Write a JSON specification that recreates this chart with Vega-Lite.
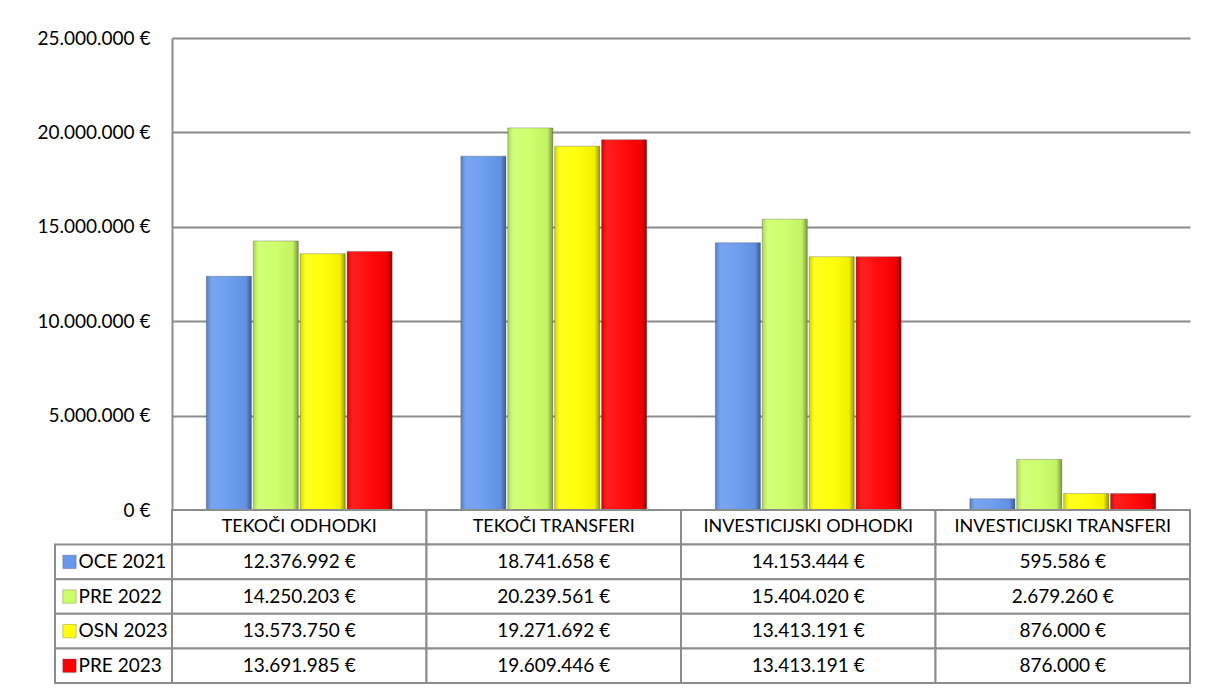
{
  "$schema": "https://vega.github.io/schema/vega-lite/v6.json",
  "padding": {"left": 36, "top": 29, "right": 5, "bottom": 5},
  "background": "white",
  "config": {
    "view": {"stroke": null},
    "font": "Lato",
    "locale": {"number": {"decimal": ",", "thousands": ".", "grouping": [3], "currency": ["", "\u00a0€"]}}
  },
  "datasets": {
    "vrednosti": [
      {"kategorija": "TEKOČI ODHODKI", "serija": "OCE 2021", "vrednost": 12376992},
      {"kategorija": "TEKOČI ODHODKI", "serija": "PRE 2022", "vrednost": 14250203},
      {"kategorija": "TEKOČI ODHODKI", "serija": "OSN 2023", "vrednost": 13573750},
      {"kategorija": "TEKOČI ODHODKI", "serija": "PRE 2023", "vrednost": 13691985},
      {"kategorija": "TEKOČI TRANSFERI", "serija": "OCE 2021", "vrednost": 18741658},
      {"kategorija": "TEKOČI TRANSFERI", "serija": "PRE 2022", "vrednost": 20239561},
      {"kategorija": "TEKOČI TRANSFERI", "serija": "OSN 2023", "vrednost": 19271692},
      {"kategorija": "TEKOČI TRANSFERI", "serija": "PRE 2023", "vrednost": 19609446},
      {"kategorija": "INVESTICIJSKI ODHODKI", "serija": "OCE 2021", "vrednost": 14153444},
      {"kategorija": "INVESTICIJSKI ODHODKI", "serija": "PRE 2022", "vrednost": 15404020},
      {"kategorija": "INVESTICIJSKI ODHODKI", "serija": "OSN 2023", "vrednost": 13413191},
      {"kategorija": "INVESTICIJSKI ODHODKI", "serija": "PRE 2023", "vrednost": 13413191},
      {"kategorija": "INVESTICIJSKI TRANSFERI", "serija": "OCE 2021", "vrednost": 595586},
      {"kategorija": "INVESTICIJSKI TRANSFERI", "serija": "PRE 2022", "vrednost": 2679260},
      {"kategorija": "INVESTICIJSKI TRANSFERI", "serija": "OSN 2023", "vrednost": 876000},
      {"kategorija": "INVESTICIJSKI TRANSFERI", "serija": "PRE 2023", "vrednost": 876000}
    ],
    "kategorije": [
      {"kategorija": "TEKOČI ODHODKI"},
      {"kategorija": "TEKOČI TRANSFERI"},
      {"kategorija": "INVESTICIJSKI ODHODKI"},
      {"kategorija": "INVESTICIJSKI TRANSFERI"}
    ],
    "serije": [
      {"serija": "OCE 2021"},
      {"serija": "PRE 2022"},
      {"serija": "OSN 2023"},
      {"serija": "PRE 2023"}
    ]
  },
  "columns": 2,
  "spacing": 0,
  "bounds": "flush",
  "concat": [
    {
      "width": 117,
      "height": 472,
      "data": {"values": []},
      "mark": "point"
    },
    {
      "width": 1018,
      "height": 472,
      "data": {"name": "vrednosti"},
      "encoding": {
        "x": {
          "field": "kategorija", "type": "nominal",
          "sort": ["TEKOČI ODHODKI", "TEKOČI TRANSFERI", "INVESTICIJSKI ODHODKI", "INVESTICIJSKI TRANSFERI"],
          "scale": {"paddingInner": 0.27, "paddingOuter": 0.135},
          "axis": null
        },
        "xOffset": {
          "field": "serija", "type": "nominal",
          "sort": ["OCE 2021", "PRE 2022", "OSN 2023", "PRE 2023"],
          "scale": {"paddingInner": 0.04}
        },
        "y": {
          "field": "vrednost", "type": "quantitative",
          "scale": {"domain": [0, 25000000], "nice": false},
          "axis": {
            "values": [0, 5000000, 10000000, 15000000, 20000000, 25000000],
            "format": "$,.0f",
            "title": null,
            "ticks": false,
            "labelPadding": 22,
            "labelFontSize": 19,
            "labelColor": "#000000",
            "labelFont": "Lato",
            "grid": true,
            "gridColor": "#8c8c8c",
            "gridWidth": 2,
            "domainColor": "#8c8c8c",
            "domainWidth": 2
          }
        }
      },
      "layer": [
        {
          "mark": {"type": "bar", "stroke": "#555555", "strokeWidth": 0.6, "strokeOpacity": 0.6},
          "encoding": {
            "color": {
              "field": "serija", "type": "nominal",
              "scale": {"domain": ["OCE 2021", "PRE 2022", "OSN 2023", "PRE 2023"], "range": ["#6699EE", "#CCFF66", "#FFFF00", "#FF0000"]},
              "legend": null
            }
          }
        },
        {
          "mark": {
            "type": "bar",
            "fill": {
              "gradient": "linear", "x1": 0, "y1": 0, "x2": 1, "y2": 0,
              "stops": [
                {"offset": 0, "color": "rgba(0,0,0,0.18)"},
                {"offset": 0.12, "color": "rgba(255,255,255,0.12)"},
                {"offset": 0.5, "color": "rgba(255,255,255,0.05)"},
                {"offset": 0.88, "color": "rgba(0,0,0,0.05)"},
                {"offset": 1, "color": "rgba(0,0,0,0.4)"}
              ]
            }
          }
        }
      ]
    },
    {
      "width": 117,
      "height": 173,
      "data": {"name": "serije"},
      "encoding": {
        "y": {
          "field": "serija", "type": "nominal",
          "scale": {"domain": ["glava", "OCE 2021", "PRE 2022", "OSN 2023", "PRE 2023"], "paddingInner": 0, "paddingOuter": 0},
          "axis": null
        }
      },
      "layer": [
        {
          "mark": {"type": "rect", "fill": "white", "stroke": "#8c8c8c", "strokeWidth": 2}
        },
        {
          "mark": {"type": "point", "shape": "square", "filled": true, "size": 180, "xOffset": -44, "opacity": 1, "stroke": "#333333", "strokeWidth": 0.5, "strokeOpacity": 0.5},
          "encoding": {
            "color": {
              "field": "serija", "type": "nominal",
              "scale": {"domain": ["OCE 2021", "PRE 2022", "OSN 2023", "PRE 2023"], "range": ["#4F7FD6", "#A8D84A", "#E0E000", "#E00000"]},
              "legend": null
            }
          }
        },
        {
          "mark": {"type": "text", "align": "left", "baseline": "middle", "dx": -35, "fontSize": 19, "color": "#000000", "font": "Lato"},
          "encoding": {"text": {"field": "serija"}}
        }
      ]
    },
    {
      "width": 1018,
      "height": 173,
      "encoding": {
        "x": {
          "field": "kategorija", "type": "nominal",
          "sort": ["TEKOČI ODHODKI", "TEKOČI TRANSFERI", "INVESTICIJSKI ODHODKI", "INVESTICIJSKI TRANSFERI"],
          "scale": {"paddingInner": 0, "paddingOuter": 0},
          "axis": null
        }
      },
      "layer": [
        {
          "data": {"name": "kategorije"},
          "mark": {"type": "rect", "fill": "white", "stroke": "#8c8c8c", "strokeWidth": 2},
          "encoding": {
            "y": {"datum": "glava", "type": "nominal", "scale": {"domain": ["glava", "OCE 2021", "PRE 2022", "OSN 2023", "PRE 2023"], "paddingInner": 0, "paddingOuter": 0}, "axis": null}
          }
        },
        {
          "data": {"name": "kategorije"},
          "mark": {"type": "text", "baseline": "middle", "fontSize": 18, "color": "#000000", "font": "Lato"},
          "encoding": {
            "y": {"datum": "glava", "type": "nominal"},
            "text": {"field": "kategorija"}
          }
        },
        {
          "data": {"name": "vrednosti"},
          "mark": {"type": "rect", "fill": "white", "stroke": "#8c8c8c", "strokeWidth": 2},
          "encoding": {
            "y": {"field": "serija", "type": "nominal"}
          }
        },
        {
          "data": {"name": "vrednosti"},
          "mark": {"type": "text", "baseline": "middle", "fontSize": 19, "color": "#000000", "font": "Lato"},
          "encoding": {
            "y": {"field": "serija", "type": "nominal"},
            "text": {"field": "vrednost", "type": "quantitative", "format": "$,.0f"}
          }
        }
      ]
    }
  ]
}
